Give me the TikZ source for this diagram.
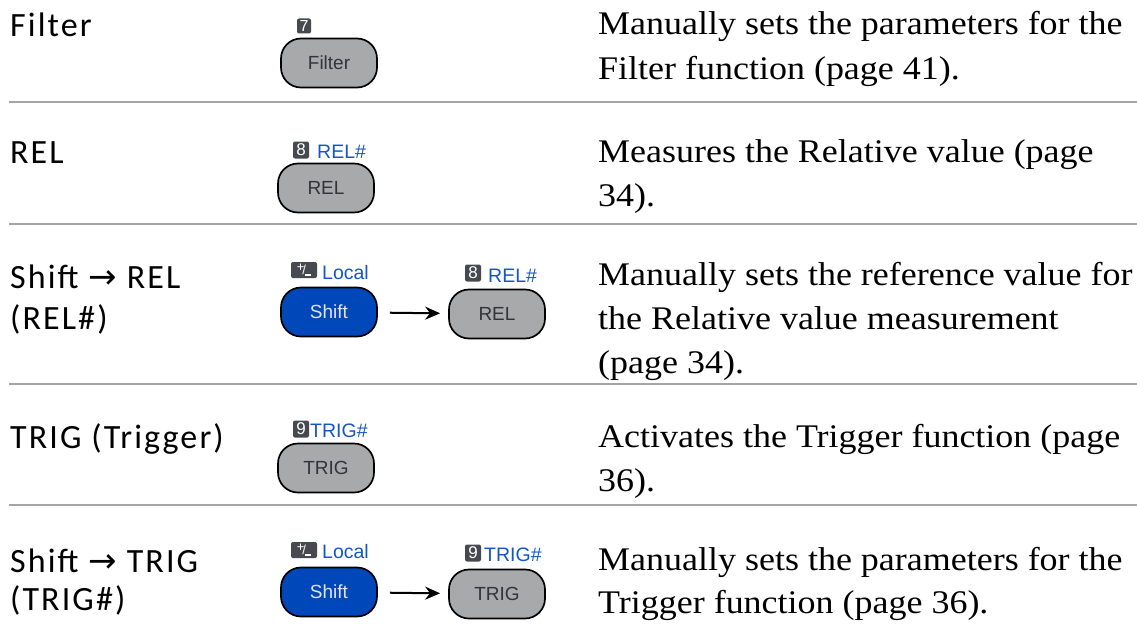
\documentclass[tikz,border=0pt]{standalone}
\usepackage{fontspec}
\setmainfont{Liberation Serif}
\newfontfamily\lfont[LetterSpace=6.2]{Carlito}
\newfontfamily\kfont{Liberation Sans}
\newfontfamily\afont{DejaVu Sans}
\newfontfamily\rfont[FakeStretch=1.09]{Liberation Serif}
\usetikzlibrary{arrows.meta}
\definecolor{sepgray}{RGB}{165,165,165}
\definecolor{keygray}{RGB}{168,169,171}
\definecolor{keytext}{RGB}{50,52,55}
\definecolor{keyblue}{RGB}{0,72,186}
\definecolor{shifttext}{RGB}{228,228,228}
\definecolor{badgegray}{RGB}{70,74,80}
\definecolor{labelblue}{RGB}{20,85,200}
\begin{document}
\begin{tikzpicture}[x=1pt,y=-1pt,
  lt/.style={anchor=base west, inner sep=0pt, font=\lfont\fontsize{34}{40}\selectfont},
  rt/.style={anchor=base west, inner sep=0pt, font=\rfont\fontsize{33}{44}\selectfont},
  keyg/.style={draw=black, line width=1.7pt, fill=keygray, rounded corners=20pt,
    minimum width=96pt, minimum height=49pt, inner sep=0pt, text=keytext,
    font=\kfont\fontsize{19}{20}\selectfont},
  keyb/.style={keyg, fill=keyblue, text=shifttext},
  badge/.style={fill=badgegray, text=white, rounded corners=2pt, inner sep=0pt,
    minimum width=16pt, minimum height=17pt, font=\kfont\fontsize{17}{17}\selectfont},
  pmbadge/.style={badge, minimum width=26pt, minimum height=16pt},
  blab/.style={anchor=base west, inner sep=0pt, text=labelblue, font=\kfont\fontsize{19.5}{20}\selectfont},
  sepline/.style={draw=sepgray, line width=2.5pt},
  conn/.style={-{Stealth[length=15pt,width=13pt]}, line width=2pt, shorten <=12pt, shorten >=8pt}]
\useasboundingbox (0,0) rectangle (1137,626);
\newcommand{\rarr}{{\afont\fontsize{34}{34}\selectfont →}}
\newcommand{\pmsym}{{\fontsize{13}{13}\selectfont\raisebox{3pt}{+}\kern-2pt/\kern-1pt\raisebox{-1pt}{\rule{6pt}{1.6pt}}}}
% separators
\foreach \yy/\nm in {102/a,224/b,384/c,505/d}{
  \coordinate (sl\nm) at (9,\yy);
  \coordinate (sr\nm) at (1137,\yy);
  \draw[sepline] (sl\nm) -- (sr\nm);
}
% Row 1
\node[lt] (l1) at (10,37) {Filter};
\node[badge, minimum width=14pt, minimum height=15pt, font=\kfont\fontsize{16}{16}\selectfont] (b1) at (304,26) {7};
\node[keyg] (k1) at (329,63) {Filter};
\node[rt] (r1a) at (598,35) {Manually sets the parameters for the};
\node[rt] (r1b) at (598,79) {Filter function (page 41).};
% Row 2
\node[lt] (l2) at (10,163) {REL};
\node[badge] (b2) at (301,150) {8};
\node[blab] (t2) at (317,158) {REL\#};
\node[keyg] (k2) at (326,188) {REL};
\node[rt] (r2a) at (598,162) {Measures the Relative value (page};
\node[rt] (r2b) at (598,206) {34).};
% Row 3
\node[lt] (l3a) at (10,288) {Shift \rarr{} REL};
\node[lt] (l3b) at (10,329) {(REL\#)};
\node[pmbadge] (b3a) at (304,270) {\pmsym};
\node[blab] (t3a) at (322,279) {Local};
\node[keyb] (k3a) at (329,312) {Shift};
\node[badge] (b3b) at (473,273) {8};
\node[blab] (t3b) at (488,282) {REL\#};
\node[keyg] (k3b) at (497,314) {REL};
\draw[conn] (k3a) -- (k3b);
\node[rt] (r3a) at (598,285) {Manually sets the reference value for};
\node[rt] (r3b) at (598,329) {the Relative value measurement};
\node[rt] (r3c) at (598,373) {(page 34).};
% Row 4
\node[lt] (l4) at (10,448) {TRIG (Trigger)};
\node[badge] (b4) at (301,429) {9};
\node[blab] (t4) at (310,437) {TRIG\#};
\node[keyg] (k4) at (326,468) {TRIG};
\node[rt] (r4a) at (598,447) {Activates the Trigger function (page};
\node[rt] (r4b) at (598,491) {36).};
% Row 5
\node[lt] (l5a) at (10,572) {Shift \rarr{} TRIG};
\node[lt] (l5b) at (10,610) {(TRIG\#)};
\node[pmbadge] (b5a) at (304,550) {\pmsym};
\node[blab] (t5a) at (322,558) {Local};
\node[keyb] (k5a) at (329,592) {Shift};
\node[badge] (b5b) at (473,553) {9};
\node[blab] (t5b) at (484,561) {TRIG\#};
\node[keyg] (k5b) at (497,594) {TRIG};
\draw[conn] (k5a) -- (k5b);
\node[rt] (r5a) at (598,570) {Manually sets the parameters for the};
\node[rt] (r5b) at (598,613) {Trigger function (page 36).};
\end{tikzpicture}
\end{document}
